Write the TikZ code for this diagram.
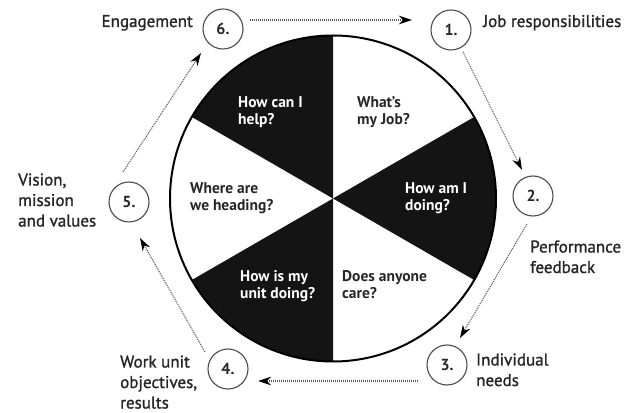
\documentclass[tikz,border=0pt]{standalone}
\usepackage{fontspec}
\setmainfont{PT Sans}
\newfontfamily\outfont[FakeBold=1.3]{PT Sans}
\usetikzlibrary{arrows.meta,calc}
\begin{document}
\begin{tikzpicture}[x=1pt,y=1pt,
  numnode/.style={circle,draw=black!70,line width=1.1pt,minimum size=40pt,inner sep=0pt,
    font=\fontsize{16}{16}\selectfont\bfseries,text=black!85},
  outlabel/.style={align=left,anchor=base west,inner sep=0pt,
    font=\outfont\fontsize{17}{20.5}\selectfont,text=black!85},
  inlabel/.style={align=left,anchor=base west,inner sep=0pt,
    font=\fontsize{15.5}{17}\selectfont\bfseries},
  darkin/.style={inlabel,text=white},
  lightin/.style={inlabel,text=black!85},
  sector/.style={fill=black!92},
  flow/.style={draw=black!65,line width=1.1pt,dash pattern=on 1pt off 1pt,
    -{Stealth[length=13pt,width=8.5pt,color=black]}},
]
\useasboundingbox (0,0) rectangle (634,412);
\coordinate (C) at (333,213.5);
% black sectors of the wheel
\fill[sector] (C) -- ++(90:163) arc[start angle=90,end angle=150,radius=163] -- cycle;
\fill[sector] (C) -- ++(-30:163) arc[start angle=-30,end angle=30,radius=163] -- cycle;
\fill[sector] (C) -- ++(210:163) arc[start angle=210,end angle=270,radius=163] -- cycle;
\draw[line width=2pt] (C) circle[radius=163];
% sector texts (anchored at the baseline of the last line)
\node[darkin]  (q6) at (238,287) {How can I\\help?};
\node[lightin] (q1) at (357,287) {What’s\\my Job?};
\node[lightin] (q5) at (190,201) {Where are\\we heading?};
\node[darkin]  (q2) at (405,201) {How am I\\doing?};
\node[darkin]  (q4) at (240,113) {How is my\\unit doing?};
\node[lightin] (q3) at (342,113) {Does anyone\\care?};
% numbered circles
\node[numnode] (n1) at (451,382) {1.};
\node[numnode] (n2) at (533,216) {2.};
\node[numnode] (n3) at (447,47) {3.};
\node[numnode] (n4) at (228,43) {4.};
\node[numnode] (n5) at (129,210) {5.};
\node[numnode] (n6) at (223,383) {6.};
% outer labels (anchored at the baseline of the last line)
\node[outlabel,anchor=base east] (l6) at (193,385) {Engagement};
\node[outlabel] (l1) at (483,385) {Job responsibilities};
\node[outlabel] (l2) at (530,139) {Performance\\feedback};
\node[outlabel] (l3) at (476,26) {Individual\\needs};
\node[outlabel] (l4) at (120,3.5) {Work unit\\objectives,\\results};
\node[outlabel] (l5) at (18,185.5) {Vision,\\mission\\and values};
% cycle arrows
\draw[flow] ($(n6.center)+(27,9)$) -- ($(n1.center)+(-39,10)$);
\draw[flow] ($(n1.center)+(12,-22)$) -- ($(n2.center)+(-11,26)$);
\draw[flow] ($(n2.center)+(-6,-28)$) -- ($(n3.center)+(13,27)$);
\draw[flow] ($(n3.center)+(-29,-16)$) -- ($(n4.center)+(30,-12)$);
\draw[flow] ($(n4.center)+(-23,17)$) -- ($(n5.center)+(11,-36)$);
\draw[flow] ($(n5.center)+(-6,30)$) -- ($(n6.center)+(-22,-24)$);
\end{tikzpicture}
\end{document}
